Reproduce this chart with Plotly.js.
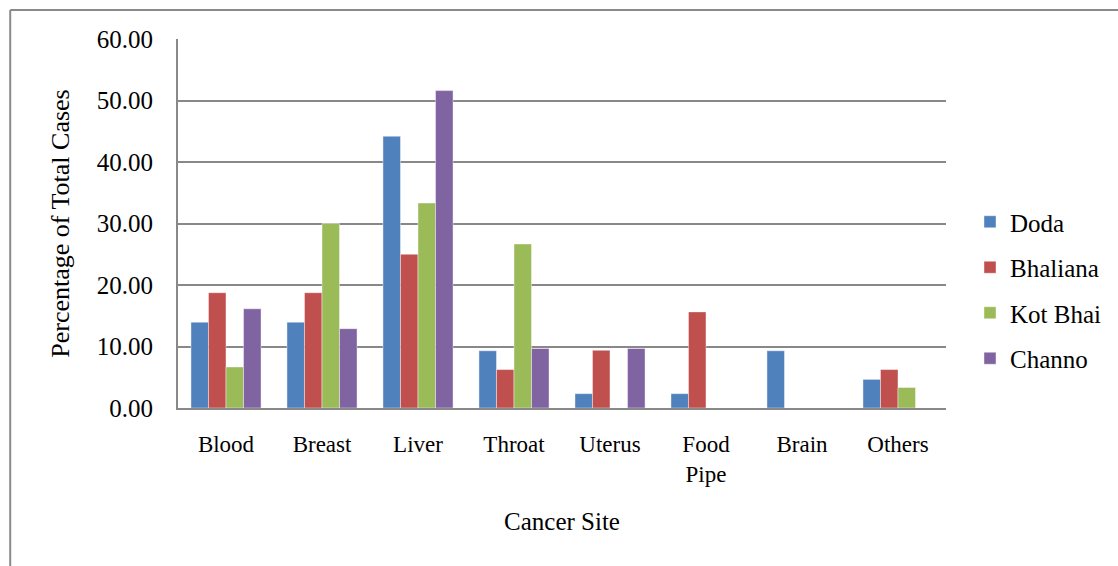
<!DOCTYPE html>
<html>
<head>
<meta charset="utf-8">
<script src="https://cdn.plot.ly/plotly-3.0.1.min.js"></script>
<style>
html,body{margin:0;padding:0;background:#fff;}
#chart{width:1118px;height:566px;}
</style>
</head>
<body>
<div id="chart"></div>
<script>
var categories = ["Blood", "Breast", "Liver", "Throat", "Uterus", "Food<br>Pipe", "Brain", "Others"];
var doda     = [13.95, 13.95, 44.19, 9.30, 2.33, 2.33, 9.30, 4.65];
var bhaliana = [18.75, 18.75, 25.00, 6.25, 9.38, 15.63, 0, 6.25];
var kotBhai  = [6.67, 30.00, 33.33, 26.67, 0, 0, 0, 3.33];
var channo   = [16.13, 12.90, 51.61, 9.68, 9.68, 0, 0, 0];
var seriesNames = ["Doda", "Bhaliana", "Kot Bhai", "Channo"];
var yTicks = [0, 10, 20, 30, 40, 50, 60];

var colors = ["#4F81BD", "#C0504D", "#9BBB59", "#8064A2"];
var values = [doda, bhaliana, kotBhai, channo];
var font = "Liberation Serif";

var traces = values.map(function (v, i) {
  return {
    type: "bar",
    name: seriesNames[i],
    x: categories,
    y: v,
    legendgroup: "g" + i,
    marker: {color: colors[i], line: {width: 0.6, color: "rgba(255,255,255,0.7)"}},
    hoverinfo: "x+y+name"
  };
});

var L = 178, R = 947, T = 39, B = 408, W = 1118, H = 566;
var pw = R - L, ph = B - T;
function px(x) { return (x - L) / pw; }
function py(y) { return (B - y) / ph; }

var layout = {
  width: W, height: H,
  margin: {l: L, r: W - R, t: T, b: H - B, pad: 0},
  paper_bgcolor: "#fff",
  plot_bgcolor: "#fff",
  barmode: "group",
  bargap: 0.27,
  bargroupgap: 0,
  font: {family: font, size: 23, color: "#000"},
  showlegend: true,
  legend: {
    x: px(970), y: py(199), xanchor: "left", yanchor: "top",
    traceorder: "grouped",
    tracegroupgap: 10,
    font: {family: font, size: 25, color: "#000"},
    bgcolor: "rgba(0,0,0,0)",
    itemwidth: 30
  },
  xaxis: {
    type: "category",
    showline: true, linecolor: "#888", linewidth: 2,
    showgrid: false,
    ticks: "outside", ticklen: 14, tickcolor: "rgba(0,0,0,0)",
    tickfont: {family: font, size: 23, color: "#000"},
    title: {text: "Cancer Site", font: {family: font, size: 25, color: "#000"}, standoff: 27},
    fixedrange: true
  },
  yaxis: {
    range: [0, 60],
    tickvals: yTicks,
    tickformat: ".2f",
    showline: true, linecolor: "#888", linewidth: 2,
    showgrid: true, gridcolor: "#888", gridwidth: 2,
    zeroline: false,
    ticks: "outside", ticklen: 18, tickcolor: "rgba(0,0,0,0)",
    tickfont: {family: font, size: 25, color: "#000"},
    title: {text: "Percentage of Total Cases", font: {family: font, size: 26, color: "#000"}, standoff: 20},
    fixedrange: true
  },
  shapes: [
    {type: "line", xref: "paper", yref: "paper", x0: px(10), x1: px(10), y0: py(10), y1: py(600), line: {color: "#8a8a8a", width: 2}},
    {type: "line", xref: "paper", yref: "paper", x0: px(10), x1: px(1130), y0: py(10), y1: py(10), line: {color: "#8a8a8a", width: 2}}
  ]
};

Plotly.newPlot("chart", traces, layout, {displayModeBar: false, staticPlot: true});
</script>
</body>
</html>
